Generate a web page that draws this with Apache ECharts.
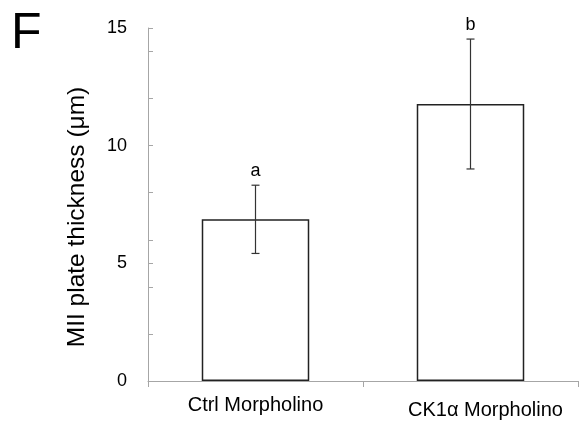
<!DOCTYPE html>
<html>
<head>
<meta charset="utf-8">
<script src="https://cdn.jsdelivr.net/npm/echarts@6/dist/echarts.min.js"></script>
<style>
  html, body { margin: 0; padding: 0; background: #fff; }
  #chart { width: 581px; height: 423px; }
</style>
</head>
<body>
<div id="chart"></div>
<script>
// data
const groups = ['Ctrl Morpholino', 'CK1α Morpholino'];
const means = [6.87, 11.77];
const errors = [1.45, 2.76];
const letters = ['a', 'b'];
const yTicks = [0, 5, 10, 15];

const FONT = '"Liberation Sans", Arial, sans-serif';
const AXIS_GRAY = '#a6a6a6';

const chart = echarts.init(document.getElementById('chart'), null, { renderer: 'canvas' });

// error bar + significance letter
function renderErr(params, api) {
  const i = api.value(0);
  const m = api.value(1);
  const e = api.value(2);
  const top = api.coord([i, m + e]);
  const bot = api.coord([i, m - e]);
  const cap = 4;
  const st = { stroke: '#333', lineWidth: 1.2 };
  return {
    type: 'group',
    children: [
      { type: 'line', shape: { x1: top[0], y1: top[1], x2: bot[0], y2: bot[1] }, style: st },
      { type: 'line', shape: { x1: top[0] - cap, y1: top[1], x2: top[0] + cap, y2: top[1] }, style: st },
      { type: 'line', shape: { x1: bot[0] - cap, y1: bot[1], x2: bot[0] + cap, y2: bot[1] }, style: st },
      {
        type: 'text',
        style: {
          x: top[0], y: top[1] - 5,
          text: letters[i],
          align: 'center', verticalAlign: 'bottom',
          fontSize: 18, fontFamily: FONT, fill: '#000'
        }
      }
    ]
  };
}

const option = {
  animation: false,
  backgroundColor: '#fff',
  graphic: [{
    type: 'text',
    left: 11, top: 9,
    style: { text: 'F', fontSize: 50, fontFamily: FONT, fill: '#000' }
  }, {
    // y axis title, placed by hand to match the source
    type: 'text',
    x: 77, y: 217,
    rotation: Math.PI / 2,
    style: {
      text: 'MII plate thickness (μm)',
      align: 'center', verticalAlign: 'middle',
      fontSize: 24.5, fontFamily: FONT, fill: '#000'
    }
  }],
  grid: { left: 148, right: 3, top: 28, bottom: 42 },
  xAxis: {
    type: 'category',
    data: groups.map((g, i) => i === 1
      ? { value: g, textStyle: { padding: [5, 0, 0, 30] } }
      : g),
    axisLine: { lineStyle: { color: AXIS_GRAY, width: 1 } },
    axisTick: { show: true, alignWithLabel: false, length: 6, lineStyle: { color: AXIS_GRAY } },
    axisLabel: { fontSize: 20, color: '#000', fontFamily: FONT, margin: 14, interval: 0 }
  },
  yAxis: [{
    type: 'value',
    min: yTicks[0],
    max: yTicks[yTicks.length - 1],
    interval: yTicks[1] - yTicks[0],
    axisLine: { show: true, lineStyle: { color: AXIS_GRAY, width: 1 } },
    axisTick: { show: true, inside: true, length: 5, lineStyle: { color: AXIS_GRAY } },
    axisLabel: { fontSize: 18, color: '#000', fontFamily: FONT, margin: 21 },
    splitLine: { show: false }
  }, {
    // minor ticks every 2 units, as in the source
    type: 'value',
    position: 'left',
    offset: 0,
    min: 0, max: 15, interval: 2,
    axisLine: { show: false },
    axisTick: { show: true, inside: true, length: 5, lineStyle: { color: AXIS_GRAY } },
    axisLabel: { show: false },
    splitLine: { show: false }
  }],
  series: [{
    type: 'bar',
    data: means,
    barWidth: '50%',
    itemStyle: { color: '#fff', borderColor: '#222', borderWidth: 1.5 }
  }, {
    type: 'custom',
    renderItem: renderErr,
    data: means.map((m, i) => [i, m, errors[i]]),
    z: 5
  }]
};

chart.setOption(option);
</script>
</body>
</html>
